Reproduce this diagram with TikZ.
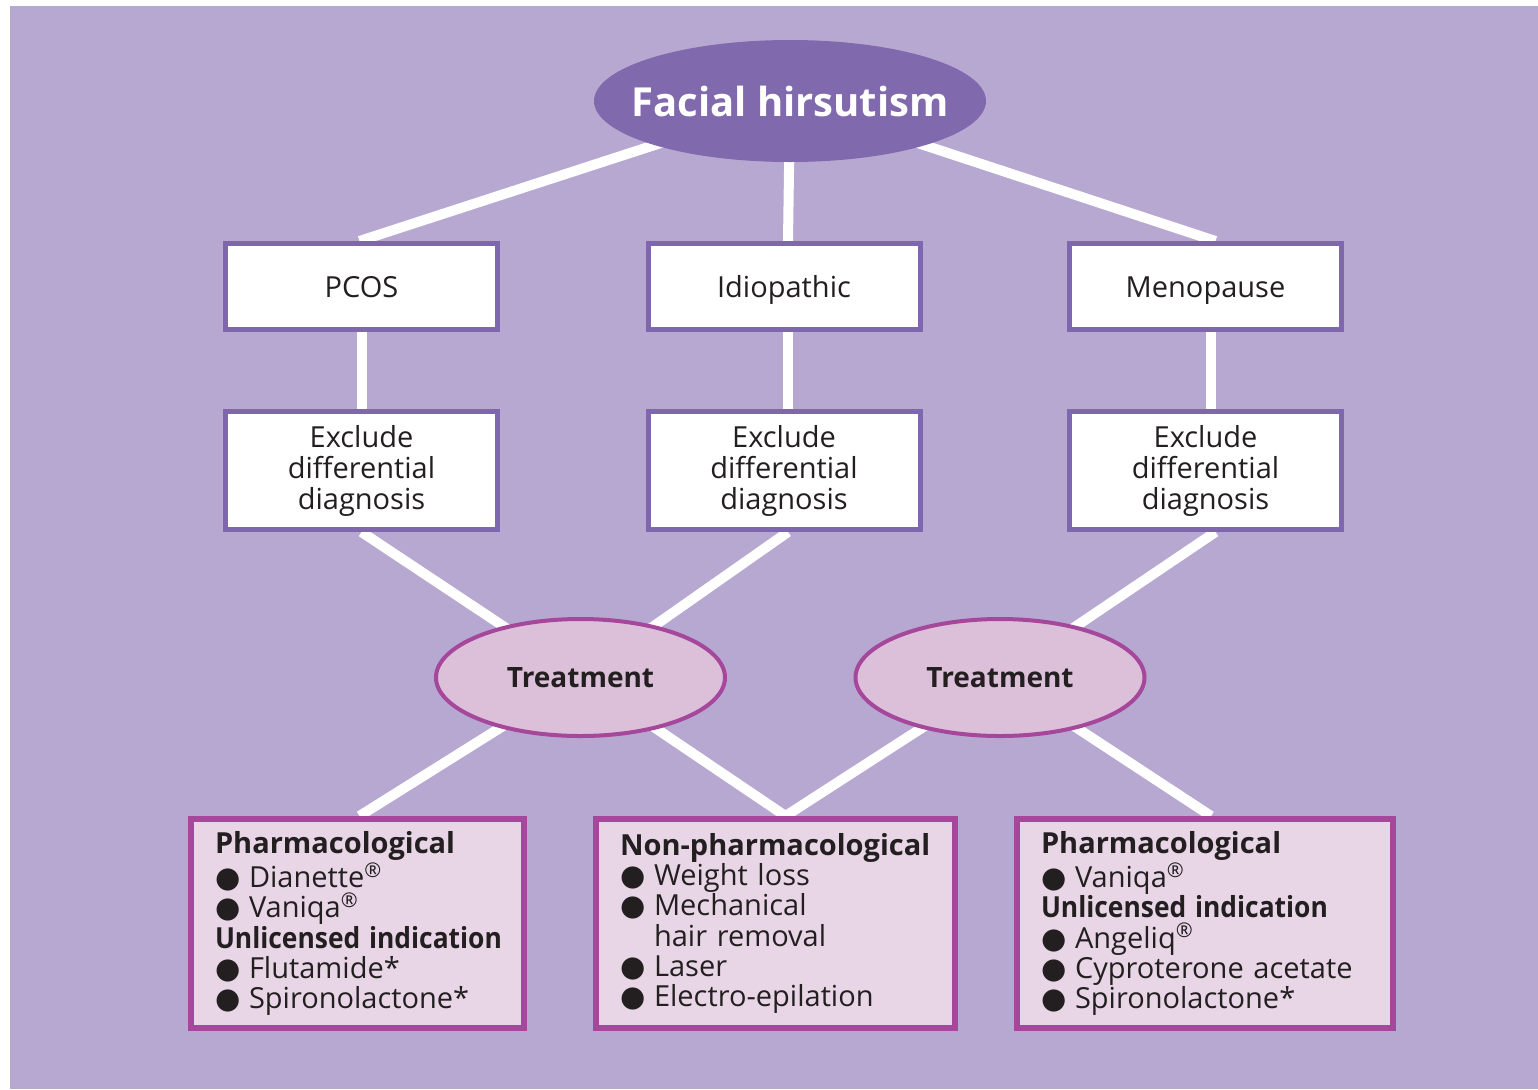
\documentclass[tikz,border=0pt]{standalone}
\usepackage{fontspec}
\usepackage{graphicx}
\setmainfont{Open Sans}
\newfontfamily\symfont{DejaVu Sans}
\usetikzlibrary{shapes.geometric,backgrounds}

\definecolor{bgpurple}{HTML}{B7A8D1}
\definecolor{toppurple}{HTML}{8069AD}
\definecolor{boxpurple}{HTML}{7F67AF}
\definecolor{treatfill}{HTML}{DCBFD9}
\definecolor{treatline}{HTML}{A5479A}
\definecolor{optfill}{HTML}{E8D6E7}
\definecolor{inkblack}{HTML}{231F20}

\newcommand{\bul}{\makebox[17pt][l]{\symfont ●}}
\newcommand{\reg}{\textsuperscript{®}}
\newcommand{\unlic}{\scalebox{0.91}[1]{\textbf{Unlicensed indication}}}

\begin{document}
\begin{tikzpicture}[x=0.5pt,y=-0.5pt,
    every node/.style={text=inkblack},
    cause/.style={rectangle, draw=boxpurple, line width=2.5pt, fill=white,
        minimum width=136pt, inner sep=0pt, align=center,
        font=\fontsize{14.5}{15.5}\selectfont},
    single/.style={text height=14pt, text depth=3pt},
    treat/.style={ellipse, draw=treatline, line width=2pt, fill=treatfill,
        minimum width=144.5pt, minimum height=58.5pt, inner sep=0pt,
        font=\fontsize{14}{16}\selectfont\bfseries},
    option/.style={rectangle, draw=treatline, line width=3pt, fill=optfill,
        minimum height=104.5pt, inner xsep=12pt, inner ysep=0pt, align=left,
        font=\fontsize{14.5}{15.1}\selectfont},
    conn/.style={draw=white, line width=5pt}]

    \useasboundingbox (0,0) rectangle (1538,1089);

    % top of the tree
    \node[ellipse, fill=toppurple, minimum width=196pt, minimum height=61pt,
        inner sep=0pt, text=white, font=\fontsize{20}{22}\selectfont\bfseries]
        (hirsutism) at (790,101) {\makebox[0pt]{Facial hirsutism}};

    % causes
    \node[cause, single, minimum height=43pt] (pcos) at (361.5,286.5) {PCOS};
    \node[cause, single, minimum height=43pt] (idio) at (784,286.5) {Idiopathic};
    \node[cause, single, minimum height=43pt] (meno) at (1205.5,286.5) {Menopause};

    \node[cause, minimum height=59pt] (exclA) at (361.5,470.5) {Exclude\\differential\\diagnosis};
    \node[cause, minimum height=59pt] (exclB) at (784,470.5) {Exclude\\differential\\diagnosis};
    \node[cause, minimum height=59pt] (exclC) at (1205.5,470.5) {Exclude\\differential\\diagnosis};

    % treatment
    \node[treat] (treatL) at (580.5,677.5) {Treatment};
    \node[treat] (treatR) at (1000,677.5) {Treatment};

    % options
    \node[option, text width=142.5pt] (pharmL) at (357.5,923.5)
        {\textbf{Pharmacological}\\
         \bul Dianette\reg\\
         \bul Vaniqa\reg\\
         \unlic\\
         \bul Flutamide*\\
         \bul Spironolactone*};
    \node[option, text width=155.5pt] (nonpharm) at (775.5,923.5)
        {\textbf{Non-pharmacological}\\
         \bul Weight loss\\
         \bul Mechanical\\
         \hspace*{17pt}hair removal\\
         \bul Laser\\
         \bul Electro-epilation};
    \node[option, text width=164pt] (pharmR) at (1205,923.5)
        {\textbf{Pharmacological}\\
         \bul Vaniqa\reg\\
         \unlic\\
         \bul Angeliq\reg\\
         \bul Cyproterone acetate\\
         \bul Spironolactone*};

    \begin{pgfonlayer}{background}
        \fill[bgpurple] (10,6) rectangle (1538,1089);
        \draw[conn] (hirsutism.center) -- ([xshift=-1pt]pcos.north);
        \draw[conn] (hirsutism.center) -- ([xshift=2pt]idio.north);
        \draw[conn] (hirsutism.center) -- ([xshift=5pt]meno.north);
        \draw[conn] (pcos) -- (exclA);
        \draw[conn] ([xshift=2pt]idio.south) -- ([xshift=2pt]exclB.north);
        \draw[conn] ([xshift=2.5pt]meno.south) -- ([xshift=2.5pt]exclC.north);
        \draw[conn] (exclA.south) -- (treatL.center);
        \draw[conn] ([xshift=2pt]exclB.south) -- (treatL.center);
        \draw[conn] ([xshift=5pt]exclC.south) -- (treatR.center);
        \draw[conn] (treatL.center) -- ([xshift=1pt]pharmL.north);
        \draw[conn] (treatL.center) -- ([xshift=5pt]nonpharm.north);
        \draw[conn] (treatR.center) -- ([xshift=5pt]nonpharm.north);
        \draw[conn] (treatR.center) -- ([xshift=3pt]pharmR.north);
    \end{pgfonlayer}
\end{tikzpicture}
\end{document}
